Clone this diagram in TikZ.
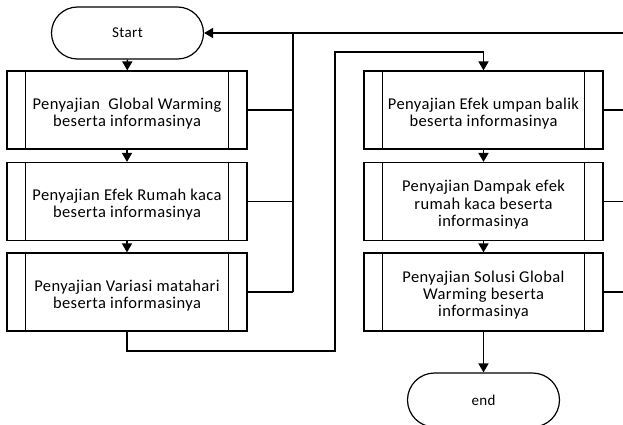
\documentclass[tikz,border=0pt]{standalone}
\usepackage{fontspec}
\setmainfont{Carlito}[LetterSpace=2.5]
\usetikzlibrary{arrows.meta}
\newcommand{\lift}{\rule{0pt}{18pt}}
\tikzset{
  procbox/.style={draw, line width=1.2pt, minimum width=240pt, minimum height=78pt,
    inner sep=0pt, align=center, font=\fontsize{16.5}{17.2}\selectfont,
    path picture={
      \draw[line width=1.2pt] ([xshift=18.5pt]path picture bounding box.north west) -- ([xshift=18.5pt]path picture bounding box.south west);
      \draw[line width=1.2pt] ([xshift=-18.5pt]path picture bounding box.north east) -- ([xshift=-18.5pt]path picture bounding box.south east);
    }},
  termbox/.style={draw, line width=1.2pt, rounded corners=26pt, minimum width=152pt,
    minimum height=52pt, inner sep=0pt, font=\fontsize{15}{17}\selectfont},
  flow/.style={line width=1.6pt, -{Triangle[width=10pt,length=9pt]}},
  link/.style={line width=1.1pt},
  loop/.style={line width=1.4pt}
}
\begin{document}
\begin{tikzpicture}[x=1pt,y=-1pt]
\useasboundingbox (0,0) rectangle (623,425);
\node[termbox] (start) at (127.5,33) {Start};
\node[procbox] (b1) at (127,110) {\lift Penyajian\ \ Global Warming\\beserta informasinya};
\node[procbox] (b2) at (127,201.5) {\lift Penyajian Efek Rumah kaca\\beserta informasinya};
\node[procbox] (b3) at (127,292) {\lift Penyajian Variasi matahari\\beserta informasinya};
\node[procbox, minimum width=239pt] (b4) at (483.5,110) {\lift Penyajian Efek umpan balik\\beserta informasinya};
\node[procbox, minimum width=239pt] (b5) at (483.5,201.5) {\lift Penyajian Dampak efek\\rumah kaca beserta\\informasinya};
\node[procbox, minimum width=239pt] (b6) at (483.5,292) {\lift Penyajian Solusi Global\\Warming beserta\\informasinya};
\node[termbox, minimum height=54pt, rounded corners=27pt] (end) at (483.5,400) {end};

\coordinate (lt) at (293,33);
\coordinate (l3) at (293,292);
\coordinate (rt) at (623,33);
\coordinate (r4) at (623,110);
\coordinate (r5) at (623,201.5);
\coordinate (r6) at (623,292);
\coordinate (p1) at (127,351);
\coordinate (p2) at (335,351);
\coordinate (p3) at (335,52);
\coordinate (p4) at (483.5,52);

\draw[flow] (start) -- (b1);
\draw[flow] (b1) -- (b2);
\draw[flow] (b2) -- (b3);
\draw[flow] (b4) -- (b5);
\draw[flow] (b5) -- (b6);
\draw[flow] (b6) -- (end);
\draw[loop] (b3.south) -- (p1) -- (p2) -- (p3) -- (p4);
\draw[flow] (p4) -- (b4.north);
\draw[flow] (rt) -- (start.east);
\draw[link] (l3) -- (lt);
\draw[link] (b1.east) -- (b1.east -| lt);
\draw[link] (b2.east) -- (b2.east -| lt);
\draw[link] (b3.east) -- (l3);
\draw[link] (b4.east) -- (r4);
\draw[link] (b5.east) -- (r5);
\draw[link] (b6.east) -- (r6);
\end{tikzpicture}
\end{document}
